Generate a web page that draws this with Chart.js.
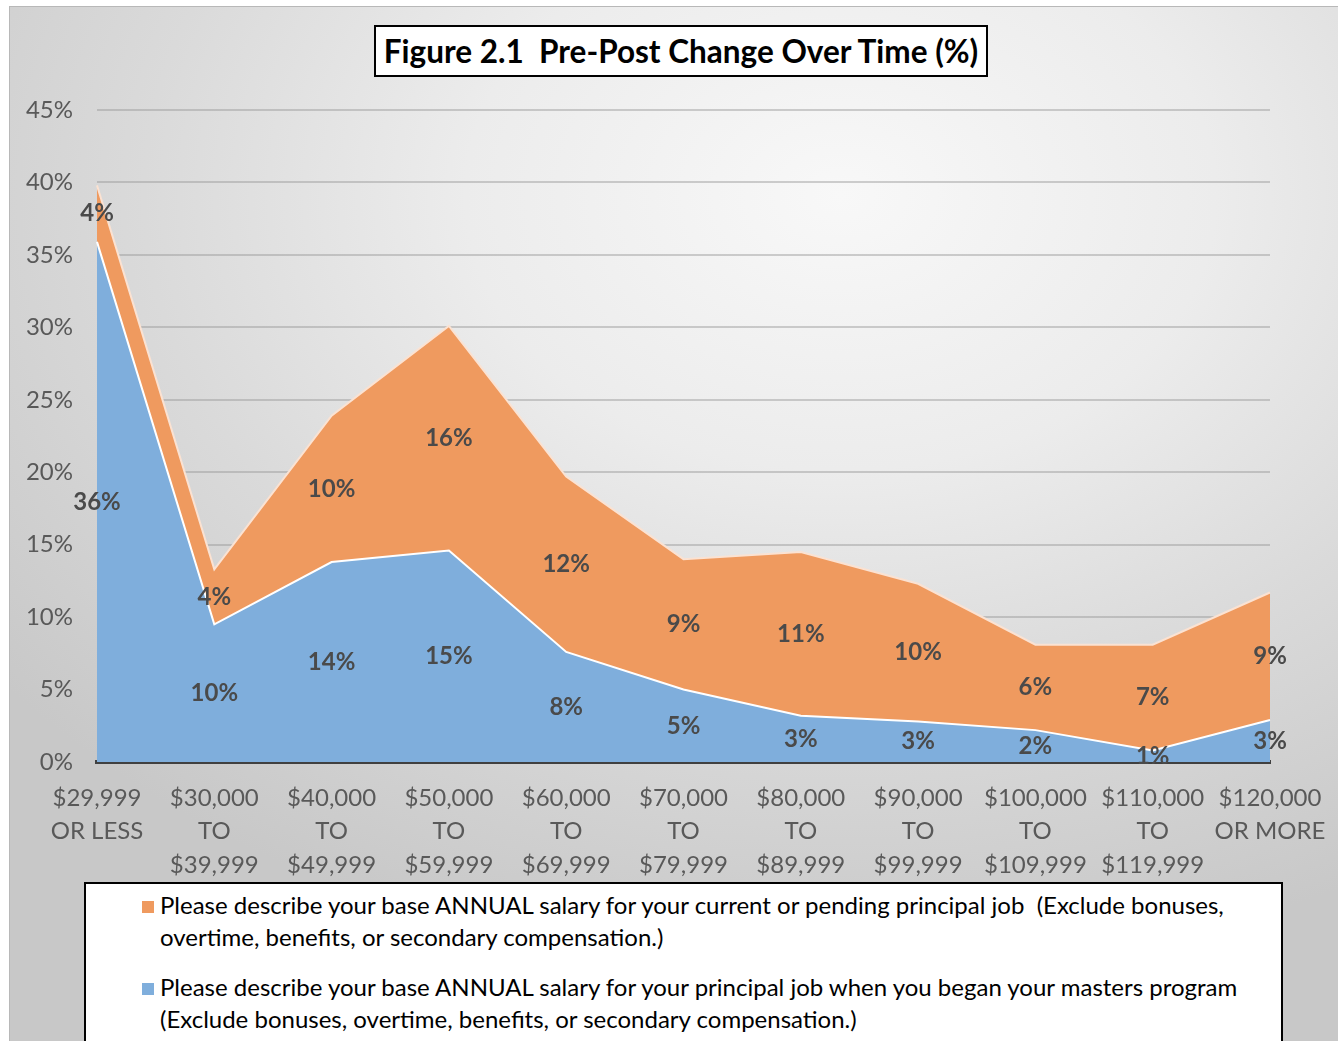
<!DOCTYPE html>
<html>
<head>
<meta charset="utf-8">
<script src="https://cdn.jsdelivr.net/npm/chart.js@4/dist/chart.umd.min.js"></script>
<style>
  html, body { margin: 0; padding: 0; background: #ffffff; }
  body { width: 1338px; height: 1041px; position: relative; overflow: hidden; font-family: Lato, "Open Sans", sans-serif; }
  #frame { position: absolute; left: 9px; top: 6px; width: 1340px; height: 1045px; border: 1px solid #b8b8b8;
    background: radial-gradient(ellipse 80% 75% at 62% 18%, #f8f8f8 0%, #ececec 35%, #dadada 65%, #c8c8c8 100%); }
  #wrap { position: absolute; left: 0; top: 0; width: 1338px; height: 1041px; }
  #title { position: absolute; left: 374px; top: 25px; width: 610px; height: 48px; border: 2px solid #000; background: #fff;
    font-weight: bold; font-size: 31.5px; line-height: 48px; text-align: center; color: #000; white-space: pre; }
  #legend { position: absolute; left: 84px; top: 882px; width: 1195px; height: 170px; border: 2px solid #000; background: #fff; }
  .entry { position: absolute; left: 74px; width: 1110px; font-size: 24px; line-height: 32px; color: #000; white-space: pre; }
  .sw { position: absolute; left: -18px; top: 12px; width: 12px; height: 12px; }
</style>
</head>
<body>
<div id="frame"></div>
<div id="wrap"><canvas id="c" width="1338" height="1041"></canvas></div>
<div id="title"></div>
<div id="legend"></div>
<script>
const chartTitle = 'Figure 2.1  Pre-Post Change Over Time (%)';
const categories = [
  ['$29,999', 'OR LESS'],
  ['$30,000', 'TO', '$39,999'],
  ['$40,000', 'TO', '$49,999'],
  ['$50,000', 'TO', '$59,999'],
  ['$60,000', 'TO', '$69,999'],
  ['$70,000', 'TO', '$79,999'],
  ['$80,000', 'TO', '$89,999'],
  ['$90,000', 'TO', '$99,999'],
  ['$100,000', 'TO', '$109,999'],
  ['$110,000', 'TO', '$119,999'],
  ['$120,000', 'OR MORE']
];
// Salary when beginning masters program (blue, bottom layer), %
const beganValues = [35.9, 9.5, 13.8, 14.6, 7.6, 5.0, 3.2, 2.8, 2.2, 0.8, 2.9];
// Current or pending salary (orange, stacked on top), %
const currentValues = [3.9, 3.8, 10.1, 15.5, 12.1, 9.0, 11.3, 9.5, 5.9, 7.3, 8.8];
const yTickValues = [0, 5, 10, 15, 20, 25, 30, 35, 40, 45];
const currentName = 'Please describe your base ANNUAL salary for your current or pending principal job  (Exclude bonuses,\novertime, benefits, or secondary compensation.)';
const beganName = 'Please describe your base ANNUAL salary for your principal job when you began your masters program\n(Exclude bonuses, overtime, benefits, or secondary compensation.)';

const blue = '#7FAEDC';
const orange = '#EF9A5F';

document.getElementById('title').textContent = chartTitle;
const legendItems = [
  { name: currentName, color: orange, top: 5 },
  { name: beganName, color: blue, top: 87 }
];
const lg = document.getElementById('legend');
legendItems.forEach(it => {
  const d = document.createElement('div');
  d.className = 'entry';
  d.style.top = it.top + 'px';
  const sw = document.createElement('span');
  sw.className = 'sw';
  sw.style.background = it.color;
  d.appendChild(sw);
  it.name.split('\n').forEach((ln, k) => {
    if (k) d.appendChild(document.createElement('br'));
    d.appendChild(document.createTextNode(ln));
  });
  lg.appendChild(d);
});

const labelPlugin = {
  id: 'segLabels',
  afterDatasetsDraw(chart) {
    const ctx = chart.ctx;
    const ys = chart.scales.y;
    ctx.save();
    ctx.font = 'bold 24px Lato, "Open Sans", sans-serif';
    ctx.fillStyle = '#4a4a4a';
    ctx.textAlign = 'center';
    ctx.textBaseline = 'middle';
    chart.data.datasets.forEach((ds, i) => {
      const meta = chart.getDatasetMeta(i);
      ds.data.forEach((v, j) => {
        let base = 0;
        for (let k = 0; k < i; k++) base += chart.data.datasets[k].data[j];
        const y = ys.getPixelForValue(base + v / 2);
        const x = meta.data[j].x;
        ctx.fillText(Math.round(v) + '%', x, y);
      });
    });
    ctx.restore();
  }
};

new Chart(document.getElementById('c'), {
  type: 'line',
  data: {
    labels: categories,
    datasets: [
      { label: beganName, data: beganValues, backgroundColor: blue, borderColor: '#ffffff', borderWidth: 2,
        fill: 'origin', pointRadius: 0, tension: 0 },
      { label: currentName, data: currentValues, backgroundColor: orange, borderColor: '#fbe2d2', borderWidth: 2,
        fill: '-1', pointRadius: 0, tension: 0 }
    ]
  },
  options: {
    responsive: false,
    animation: false,
    events: [],
    layout: { padding: { left: 0, top: 110, right: 68, bottom: 0 } },
    plugins: { legend: { display: false }, title: { display: false }, tooltip: { enabled: false } },
    scales: {
      x: {
        type: 'category',
        offset: false,
        grid: { display: false, drawTicks: false },
        border: { display: true, color: '#404040', width: 4 },
        ticks: { color: '#595959', font: { family: 'Lato', size: 24, lineHeight: 1.38 }, padding: 20,
          maxRotation: 0, autoSkip: false },
        afterFit(s) { s.height = 1041 - 762; s.paddingLeft = 0; s.paddingRight = 0; }
      },
      y: {
        stacked: true,
        min: 0, max: 45,
        afterBuildTicks(s) { s.ticks = yTickValues.map(v => ({ value: v })); },
        grid: { color: 'rgba(150,150,150,0.45)', lineWidth: 2, drawTicks: false },
        border: { display: false },
        ticks: { color: '#595959', font: { family: 'Lato', size: 24 }, padding: 24,
          callback: v => v + '%' },
        afterFit(s) { s.width = 97; s.paddingTop = 0; s.paddingBottom = 0; }
      }
    }
  },
  plugins: [labelPlugin]
});
</script>
</body>
</html>
